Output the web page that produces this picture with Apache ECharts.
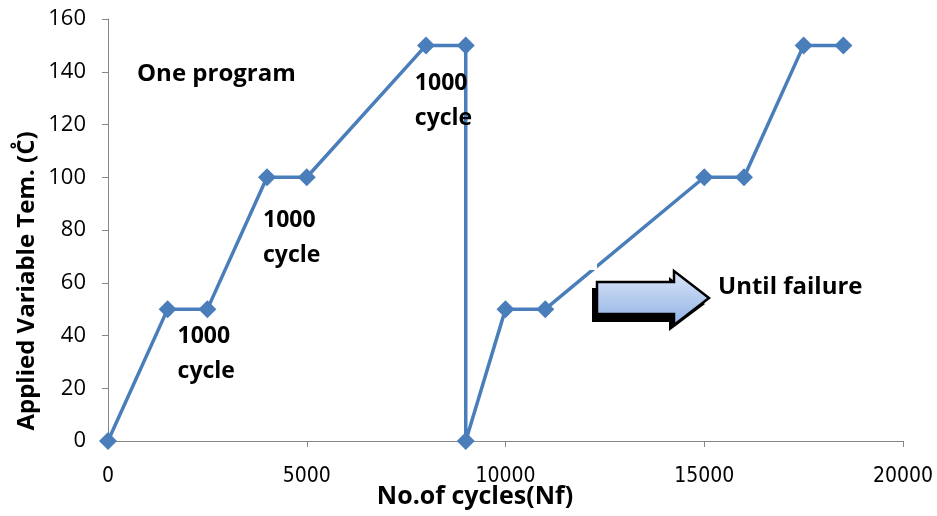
<!DOCTYPE html>
<html><head><meta charset="utf-8">
<script src="https://cdn.jsdelivr.net/npm/echarts@6/dist/echarts.min.js"></script>
<style>html,body{margin:0;padding:0;background:#fff}#c{width:937px;height:516px}</style>
</head><body><div id="c"></div>
<script>
var cycles = [0, 1500, 2500, 4000, 5000, 8000, 9000, 9000, 10000, 11000, 15000, 16000, 17500, 18500];
var temps  = [0, 50, 50, 100, 100, 150, 150, 0, 50, 50, 100, 100, 150, 150];
var xTicks = [0, 5000, 10000, 15000, 20000];
var yTicks = [0, 20, 40, 60, 80, 100, 120, 140, 160];
var notes = [
  {text: 'One program', x: 730, y: 139, size: 24},
  {text: '1000\ncycle', x: 1750, y: 33, size: 23},
  {text: '1000\ncycle', x: 3900, y: 77, size: 23},
  {text: '1000\ncycle', x: 7720, y: 129, size: 23}
];
var failText = 'Until failure';
var xTitle = 'No.of cycles(Nf)';
var yTitle = 'Applied Variable Tem. (C\u030A)';

var chart = echarts.init(document.getElementById('c'));
var data = cycles.map(function(c, i){ return [c, temps[i]]; });
var F = '"Open Sans", "Liberation Sans", Arial, sans-serif';
var option = {
  animation: false,
  backgroundColor: '#fff',
  grid: {left: 108, right: 34, top: 19, bottom: 75},
  xAxis: {
    type: 'value', min: 0, max: 20000, interval: 5000,
    axisLine: {lineStyle: {color: '#868686', width: 1}},
    axisTick: {show: true, length: 6, lineStyle: {color: '#868686'}},
    axisLabel: {fontFamily: '"Liberation Sans Narrow", "Arial Narrow", "DejaVu Sans Condensed", sans-serif', fontSize: 21, color: '#000', margin: 25,
      formatter: function(v){ return String(v); }},
    splitLine: {show: false}
  },
  yAxis: {
    type: 'value', min: 0, max: 160, interval: 20,
    axisLine: {show: true, lineStyle: {color: '#868686', width: 1}},
    axisTick: {show: true, length: 6, lineStyle: {color: '#868686'}},
    axisLabel: {fontFamily: F, fontSize: 22, color: '#000', margin: 22},
    splitLine: {show: false}
  },
  series: [{
    type: 'line', data: data,
    symbol: 'diamond', symbolSize: 18,
    lineStyle: {color: '#4a7ebb', width: 3.5},
    itemStyle: {color: '#4a7ebb'},
    z: 3
  }],
  graphic: []
};
chart.setOption(option);

var g = [
  {type: 'rect', shape: {x: 590, y: 264, width: 7, height: 6}, style: {fill: '#fff'}, z: 10},
  {type: 'polygon', shape: {points: [[592,288],[669,288],[669,277],[705,304],[669,331],[669,322],[592,322]]}, style: {fill: '#000'}, z: 10},
  {type: 'polygon', shape: {points: [[597,282],[674,282],[674,271],[709,298],[674,325],[674,314],[597,314]]},
    style: {fill: new echarts.graphic.LinearGradient(0,0,0,1,[{offset:0,color:'#dce7f8'},{offset:1,color:'#8fb1e5'}]), stroke: '#000', lineWidth: 2.5}, z: 11},
  {type: 'text', x: 718, y: 287, style: {text: failText, fontFamily: F, fontWeight: 'bold', fontSize: 24, fill: '#000', textAlign: 'left', textVerticalAlign: 'middle'}, z: 12},
  {type: 'text', x: 475, y: 497, style: {text: xTitle, fontFamily: F, fontWeight: 'bold', fontSize: 25, fill: '#000', textAlign: 'center', textVerticalAlign: 'middle'}, z: 12},
  {type: 'text', x: 27, y: 281, rotation: Math.PI / 2, style: {text: yTitle, fontFamily: F, fontWeight: 'bold', fontSize: 24, fill: '#000', textAlign: 'center', textVerticalAlign: 'middle'}, z: 12}
];
notes.forEach(function(n){
  var p = chart.convertToPixel({gridIndex: 0}, [n.x, n.y]);
  g.push({type: 'text', x: p[0], y: p[1], style: {text: n.text, fontFamily: F, fontWeight: 'bold', fontSize: n.size, lineHeight: 35, fill: '#000', textAlign: 'left', textVerticalAlign: 'middle'}, z: 12});
});
chart.setOption({graphic: g});
</script></body></html>
